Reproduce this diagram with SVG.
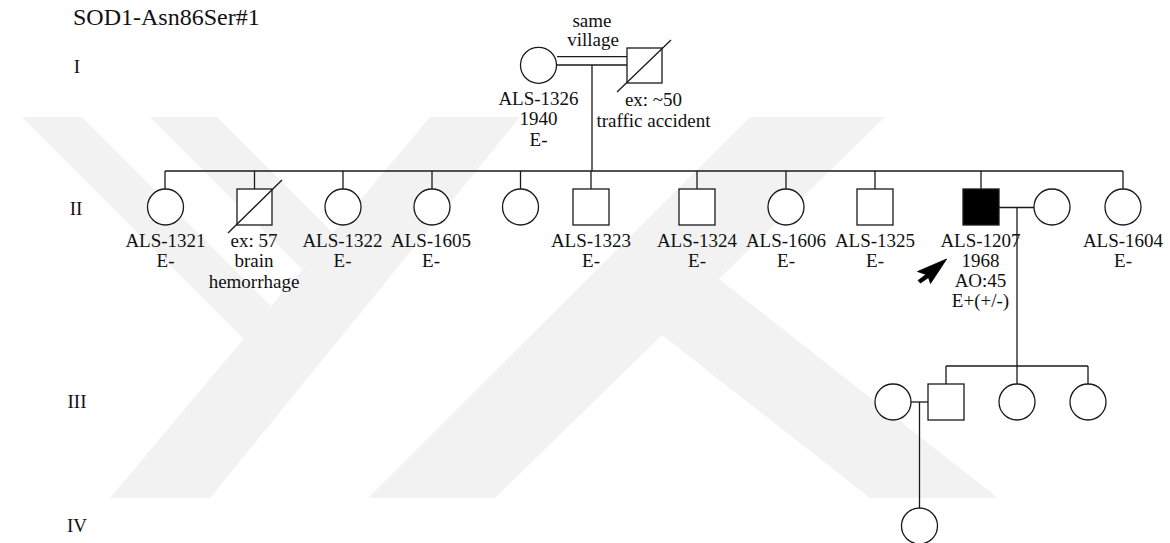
<svg xmlns="http://www.w3.org/2000/svg" width="1170" height="543" viewBox="0 0 1170 543" font-family="'Liberation Serif', 'Times New Roman', Tinos, 'DejaVu Serif', serif">
<style>
.wm{fill:#f2f2f2;stroke:none}
.n{fill:#fff;stroke:#1a1a1a;stroke-width:1.3}
.aff{fill:#000;stroke:#1a1a1a;stroke-width:1.3}
.ln{fill:none;stroke:#1a1a1a;stroke-width:1.3}
.t{font-family:'Liberation Serif','Times New Roman',Tinos,'DejaVu Serif',serif;font-size:19px;fill:#111}
.c{text-anchor:middle}
</style>
<rect width="1170" height="543" fill="#fff"/>
<g id="watermark">
<polygon class="wm" points="430,117 520,117 210,498 110,498"/>
<polygon class="wm" points="22,117 82,117 271,306 244,339"/>
<polygon class="wm" points="150,117 217,117 333,233 302,269"/>
<polygon class="wm" points="368,498 750,117 885,117 719,279 998,498 870,498 662,335 495,498"/>
</g>
<text class="t" x="73" y="25" font-size="24" style="font-size:24px">SOD1-Asn86Ser#1</text>
<g id="generations">
<text class="t c" x="77" y="73">I</text>
<text class="t c" x="76" y="215">II</text>
<text class="t c" x="77" y="408">III</text>
<text class="t c" x="77" y="532">IV</text>
</g>
<g id="connectors">
<line class="ln" x1="557" y1="56.7" x2="627" y2="56.7"/>
<line class="ln" x1="557" y1="65" x2="627" y2="65"/>
<line class="ln" x1="592" y1="65" x2="592" y2="171"/>
<line class="ln" x1="165" y1="171" x2="1123" y2="171"/>
<path class="ln" d="M165,171V189M254.5,171V189M343,171V189M432,171V189M520.5,171V189M591,171V189M697,171V189M786,171V189M875,171V189M981,171V189M1123,171V189"/>
<line class="ln" x1="999" y1="207.5" x2="1034" y2="207.5"/>
<line class="ln" x1="1017" y1="207.5" x2="1017" y2="366"/>
<line class="ln" x1="946" y1="366" x2="1088" y2="366"/>
<path class="ln" d="M946,366V384M1017,366V384M1088,366V384"/>
<line class="ln" x1="911" y1="402" x2="928" y2="402"/>
<line class="ln" x1="919.5" y1="402" x2="919.5" y2="508"/>
</g>
<g id="I-1">
<circle class="n" cx="538.5" cy="65.3" r="18"/>
<text class="t c" x="538.5" y="104.5">ALS-1326</text>
<text class="t c" x="538.5" y="125">1940</text>
<text class="t c" x="538.5" y="145.5">E-</text>
</g>
<g id="I-2">
<rect class="n" x="627" y="48" width="35" height="35"/>
<line class="ln" x1="617" y1="92" x2="671" y2="40"/>
<text class="t c" x="653.5" y="106">ex: ~50</text>
<text class="t c" x="653.5" y="127">traffic accident</text>
</g>
<g id="consanguinity-note">
<text class="t c" x="592" y="26.5">same</text>
<text class="t c" x="593" y="45.5">village</text>
</g>
<g id="II-1">
<circle class="n" cx="165.5" cy="207" r="18"/>
<text class="t c" x="165.5" y="246.5">ALS-1321</text>
<text class="t c" x="165.5" y="267">E-</text>
</g>
<g id="II-2">
<rect class="n" x="237" y="189" width="35" height="36"/>
<line class="ln" x1="228" y1="233" x2="282" y2="180"/>
<text class="t c" x="254" y="246.5">ex: 57</text>
<text class="t c" x="254" y="267">brain</text>
<text class="t c" x="254" y="287.5">hemorrhage</text>
</g>
<g id="II-3">
<circle class="n" cx="343" cy="207" r="18"/>
<text class="t c" x="342.5" y="246.5">ALS-1322</text>
<text class="t c" x="342.5" y="267">E-</text>
</g>
<g id="II-4">
<circle class="n" cx="432" cy="207" r="18"/>
<text class="t c" x="431" y="246.5">ALS-1605</text>
<text class="t c" x="431" y="267">E-</text>
</g>
<g id="II-5">
<circle class="n" cx="520.5" cy="207" r="18"/>
</g>
<g id="II-6">
<rect class="n" x="573" y="189" width="36" height="36"/>
<text class="t c" x="591" y="246.5">ALS-1323</text>
<text class="t c" x="591" y="267">E-</text>
</g>
<g id="II-7">
<rect class="n" x="679" y="189" width="36" height="36"/>
<text class="t c" x="697" y="246.5">ALS-1324</text>
<text class="t c" x="697" y="267">E-</text>
</g>
<g id="II-8">
<circle class="n" cx="786" cy="207" r="18"/>
<text class="t c" x="786" y="246.5">ALS-1606</text>
<text class="t c" x="786" y="267">E-</text>
</g>
<g id="II-9">
<rect class="n" x="857" y="189" width="36" height="36"/>
<text class="t c" x="875" y="246.5">ALS-1325</text>
<text class="t c" x="875" y="267">E-</text>
</g>
<g id="II-10">
<rect class="aff" x="963" y="189" width="36" height="36"/>
<text class="t c" x="980.5" y="246.5">ALS-1207</text>
<text class="t c" x="980.5" y="266.5">1968</text>
<text class="t c" x="980.5" y="286.5">AO:45</text>
<text class="t c" x="980.5" y="306.8">E+(+/-)</text>
<polygon fill="#000" stroke="#000" stroke-width="0.8" stroke-linejoin="round" points="946.7,259 917.5,271.5 926,274.5 918,280.5 920.5,283 928.5,277.5 930.5,283.5"/>
</g>
<g id="II-11">
<circle class="n" cx="1052" cy="207" r="18"/>
</g>
<g id="II-12">
<circle class="n" cx="1123" cy="207" r="18"/>
<text class="t c" x="1123" y="246.5">ALS-1604</text>
<text class="t c" x="1123" y="267">E-</text>
</g>
<g id="III-1">
<circle class="n" cx="893" cy="402" r="18"/>
</g>
<g id="III-2">
<rect class="n" x="928" y="384" width="36" height="36"/>
</g>
<g id="III-3">
<circle class="n" cx="1017" cy="402" r="18"/>
</g>
<g id="III-4">
<circle class="n" cx="1088" cy="402" r="18"/>
</g>
<g id="IV-1">
<circle class="n" cx="919.5" cy="526" r="18"/>
</g>
</svg>
